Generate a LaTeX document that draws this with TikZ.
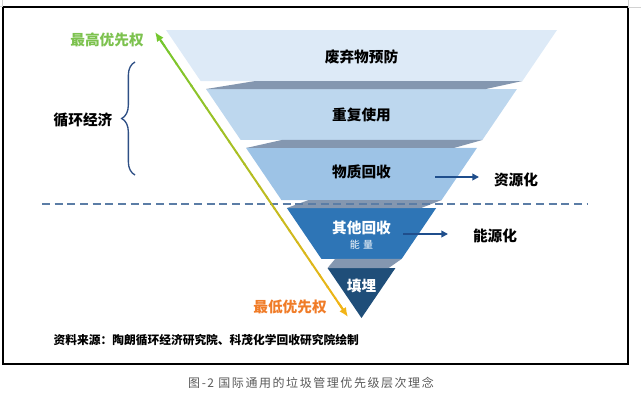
\documentclass[tikz,border=0pt]{standalone}
\usepackage{fontspec}
\setmainfont{Noto Sans CJK SC}
\newfontfamily\captionfont{Noto Sans CJK SC}[LetterSpace=13]
\usepackage{xcolor}
\usetikzlibrary{arrows.meta,calc,decorations.pathreplacing}
\definecolor{layerA}{HTML}{DDEAF7}
\definecolor{layerB}{HTML}{BDD7EE}
\definecolor{layerC}{HTML}{9DC3E6}
\definecolor{layerD}{HTML}{2E75B6}
\definecolor{layerE}{HTML}{1F4E79}
\definecolor{shadowgray}{HTML}{8497B0}
\definecolor{prioGreen}{HTML}{74C72E}
\definecolor{prioGreenText}{HTML}{7DC24F}
\definecolor{prioYellow}{HTML}{F2B416}
\definecolor{prioOrange}{HTML}{F07C28}
\definecolor{arrowblue}{HTML}{1F4E8C}
\definecolor{braceblue}{HTML}{2E4F85}
\definecolor{dashblue}{HTML}{5B7DA6}
\definecolor{captiongray}{HTML}{595959}
\tikzset{
  tiertext/.style={font=\fontsize{11}{13}\selectfont\bfseries},
  sidetext/.style={font=\fontsize{11}{13}\selectfont\bfseries},
  priotext/.style={font=\fontsize{11}{13}\selectfont\bfseries},
  outarrow/.style={-{Triangle[length=5pt,width=5pt]}, line width=1.4pt, arrowblue}
}

\begin{document}
\begin{tikzpicture}[x=0.75pt,y=-0.75pt]
  \useasboundingbox (0,0) rectangle (641,400);
  % frame
  \draw[line width=0.8pt] (3,7) rectangle (628,364);
  \draw[gray!35, line width=0.5pt] (628,0) -- (628,7) -- (641,7);
  \draw[gray!35, line width=0.5pt] (2,0) -- (2,6) -- (0,6);

  % funnel
  \coordinate (tl) at (166,30);
  \coordinate (tr) at (557,30);
  \coordinate (apex) at (361.5,318);
  \foreach \ta/\tb/\col in {0/0.1771/layerA, 0.2049/0.3819/layerB, 0.4097/0.5903/layerC, 0.6181/0.7951/layerD, 0.8264/1/layerE}
    \fill[\col] ($(tl)!\ta!(apex)$) -- ($(tr)!\ta!(apex)$) -- ($(tr)!\tb!(apex)$) -- ($(tl)!\tb!(apex)$) -- cycle;
  % shadows between tiers
  \foreach \tb/\tn in {0.1771/0.2049, 0.3819/0.4097, 0.5903/0.6181, 0.7951/0.8264} {
    \coordinate (bl) at ($(tl)!\tb!(apex)$);
    \coordinate (br) at ($(tr)!\tb!(apex)$);
    \coordinate (nl) at ($(tl)!\tn!(apex)$);
    \coordinate (nr) at ($(tr)!\tn!(apex)$);
    \fill[shadowgray] (nl) -- ($(bl)!0.17!(br)$) -- (br) -- ($(nr)!0.1!(nl)$) -- cycle;
  }

  % divider
  \draw[dashblue, line width=1.1pt, dash pattern=on 6pt off 3.5pt] (42,204) -- (587,204);

  % tier labels
  \node[tiertext] (prevent) at (361.5,57) {废弃物预防};
  \node[tiertext] (reuse) at (361.5,115) {重复使用};
  \node[tiertext] (recycle) at (361.5,172) {物质回收};
  \node[tiertext, text=white] (recover) at (361.5,228) {其他回收};
  \node[font=\fontsize{7.5}{9}\selectfont, text=white] (energy) at (361.5,245) {能\hspace{2.5pt}量};
  \node[tiertext, text=white] (landfill) at (361.5,286) {填埋};

  % outputs
  \node[sidetext] (resource) at (516,180) {资源化};
  \node[sidetext] (energyuse) at (495,236) {能源化};
  \coordinate (resStart) at (435,177);
  \coordinate (resEnd) at (479,177);
  \coordinate (engStart) at (403,234);
  \coordinate (engEnd) at (448,234);
  \draw[outarrow] (resStart) -- (resEnd);
  \draw[outarrow] (engStart) -- (engEnd);

  % priority arrow
  \coordinate (hiTip) at (155,32);
  \coordinate (loTip) at (348,317);
  \foreach \i in {1,...,24} {
    \pgfmathsetmacro{\sa}{0.03+0.94*(\i-1)/24}
    \pgfmathsetmacro{\sb}{0.03+0.94*\i/24+0.004}
    \pgfmathtruncatemacro{\mix}{100-100*(\i-0.5)/24}
    \draw[line width=1.5pt, prioGreen!\mix!prioYellow] ($(hiTip)!\sa!(loTip)$) -- ($(hiTip)!\sb!(loTip)$);
  }
  \draw[-{Latex[length=7pt,width=6pt]}, line width=1.5pt, prioGreen] ($(hiTip)!0.05!(loTip)$) -- (hiTip);
  \draw[-{Latex[length=7pt,width=6pt]}, line width=1.5pt, prioYellow] ($(hiTip)!0.95!(loTip)$) -- (loTip);
  \node[priotext, text=prioGreenText] (hiprio) at (107,40) {最高优先权};
  \node[priotext, text=prioOrange] (loprio) at (290,307) {最低优先权};

  % circular economy
  \node[sidetext] (circ) at (83,120) {循环经济};
  \coordinate (braceTop) at (135,62);
  \coordinate (braceBot) at (135,175);
  \draw[braceblue, line width=1pt, decorate, decoration={brace, amplitude=10pt}] (braceBot) -- (braceTop);

  % source and caption
  \node[anchor=west, font=\fontsize{8.8}{10}\selectfont\bfseries] (source) at (49,340) {资料来源：陶朗循环经济研究院、科茂化学回收研究院绘制};
  \node[font=\captionfont\fontsize{9}{11}\selectfont, text=captiongray] (caption) at (311,383) {图-2 国际通用的垃圾管理优先级层次理念};
\end{tikzpicture}
\end{document}
